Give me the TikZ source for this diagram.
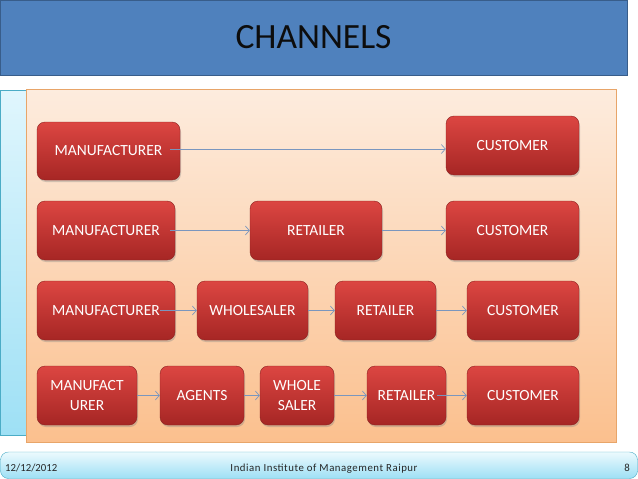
\documentclass[tikz,border=0pt]{standalone}
\usepackage{fontspec}
\setmainfont{Carlito}
\usetikzlibrary{arrows.meta,shadows}
\definecolor{boxtop}{RGB}{220,70,66}
\definecolor{boxbot}{RGB}{166,38,36}
\definecolor{boxline}{RGB}{140,34,32}
\definecolor{flowline}{RGB}{122,150,190}
\definecolor{titlebar}{RGB}{79,129,189}
\definecolor{titleline}{RGB}{56,93,138}
\definecolor{paneltop}{RGB}{253,236,222}
\definecolor{panelbot}{RGB}{251,192,142}
\definecolor{panelline}{RGB}{232,165,105}
\definecolor{stripline}{RGB}{75,172,198}
\definecolor{striptop}{RGB}{224,246,253}
\definecolor{stripbot}{RGB}{158,224,245}

\begin{document}
\begin{tikzpicture}[x=1pt, y=-1pt,
	chbox/.style={rounded corners=8pt, draw=boxline, top color=boxtop, bottom color=boxbot, text=white, font=\fontsize{15.5}{20}\selectfont, align=center, inner sep=0pt, minimum height=58pt, drop shadow={opacity=0.35, shadow xshift=1pt, shadow yshift=-2pt}},
	flow/.style={draw=flowline, line width=0.7pt, -{Straight Barb[length=4pt, width=9pt]}},
	foottext/.style={font=\fontsize{10.8}{12}\selectfont, text=black!85, inner sep=0pt}]
	\useasboundingbox (0,0) rectangle (638,479);
	\node [draw=titleline, fill=titlebar, minimum width=627pt, minimum height=75pt, inner sep=0pt, font=\fontsize{35.5}{40}\selectfont, text=black!95] (title) at (313.5,37.5) {\raisebox{-2.5pt}{CHANNELS}};
	\draw [draw=stripline, top color=striptop, bottom color=stripbot] (0.5,90) rectangle (40,435);
	\draw [draw=panelline, top color=paneltop, bottom color=panelbot] (26,89) rectangle (616,442);
	\draw [draw=stripline, rounded corners=8pt, top color=striptop!60!white, bottom color=stripbot] (0.5,452) rectangle (637.5,478.5);
	\node [foottext, anchor=base west] (date) at (5,471) {12/12/2012};
	\node [foottext, anchor=base] (inst) at (324,471) {\addfontfeature{LetterSpace=5}Indian Institute of Management Raipur};
	\node [foottext, anchor=base east] (page) at (630,471) {8};
	\node [chbox, minimum width=143pt] (m1) at (108.5,151) {MANUFACTURER};
	\node [chbox, minimum width=133pt, minimum height=59pt] (c1) at (512.5,145.5) {CUSTOMER};
	\node [chbox, minimum width=138pt, minimum height=59pt] (m2) at (106,230.5) {MANUFACTURER};
	\node [chbox, minimum width=132pt, minimum height=59pt] (r2) at (316,230.5) {RETAILER};
	\node [chbox, minimum width=133pt, minimum height=59pt] (c2) at (512.5,230.5) {CUSTOMER};
	\node [chbox, minimum width=138pt, minimum height=59pt] (m3) at (106,310.5) {MANUFACTURER};
	\node [chbox, minimum width=111pt, minimum height=59pt] (w3) at (252.5,310.5) {WHOLESALER};
	\node [chbox, minimum width=101pt, minimum height=59pt] (r3) at (385.5,310.5) {RETAILER};
	\node [chbox, minimum width=112pt, minimum height=59pt] (c3) at (523,310.5) {CUSTOMER};
	\node [chbox, minimum width=100pt, minimum height=59pt] (m4) at (87,395.5) {MANUFACT\\URER};
	\node [chbox, minimum width=84pt, minimum height=59pt] (a4) at (202,395.5) {AGENTS};
	\node [chbox, minimum width=74pt, minimum height=59pt] (w4) at (297,395.5) {WHOLE\\SALER};
	\node [chbox, minimum width=79pt, minimum height=59pt] (r4) at (406.5,395.5) {RETAILER};
	\node [chbox, minimum width=112pt, minimum height=59pt] (c4) at (523,395.5) {CUSTOMER};
	\draw [flow] ([xshift=-10pt, yshift=2pt]m1.east) to ([yshift=2pt]m1.east -| c1.west);
	\draw [flow] ([xshift=-5pt]m2.east) to (r2.west);
	\draw [flow] (r2.east) to (c2.west);
	\draw [flow] ([xshift=-15pt]m3.east) to (w3.west);
	\draw [flow] (w3.east) to (r3.west);
	\draw [flow] (r3.east) to (c3.west);
	\draw [flow] (m4.east) to (a4.west);
	\draw [flow] (a4.east) to (w4.west);
	\draw [flow] (w4.east) to (r4.west);
	\draw [flow] ([xshift=-9pt]r4.east) to (c4.west);
\end{tikzpicture}
\end{document}
